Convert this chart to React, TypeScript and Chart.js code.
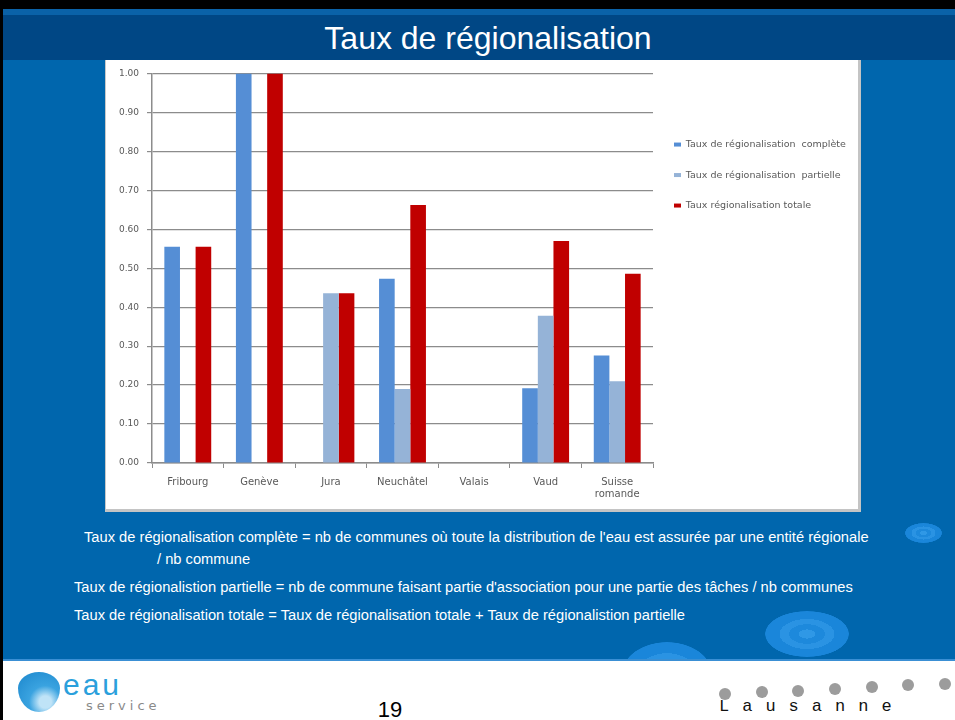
import React, { useEffect, useRef } from "react";
import { Chart, registerables } from "chart.js";

Chart.register(...registerables);

const categories: (string | string[])[] = [
  "Fribourg",
  "Genève",
  "Jura",
  "Neuchâtel",
  "Valais",
  "Vaud",
  ["Suisse", "romande"],
];
const seriesNames = [
  "Taux de régionalisation  complète",
  "Taux de régionalisation  partielle",
  "Taux régionalisation totale",
];
const complete = [0.555, 1.0, 0, 0.473, 0, 0.192, 0.276];
const partielle = [0, 0, 0.436, 0.19, 0, 0.378, 0.21];
const totale = [0.555, 1.0, 0.436, 0.662, 0, 0.57, 0.486];
const yTicks = [0, 0.1, 0.2, 0.3, 0.4, 0.5, 0.6, 0.7, 0.8, 0.9, 1.0];

const title = "Taux de régionalisation";
const notes = [
  "Taux de régionalisation complète = nb de communes où toute la distribution de l'eau est assurée par une entité régionale",
  "/ nb commune",
  "Taux de régionalistion partielle = nb de commune faisant partie d'association pour une partie des tâches / nb communes",
  "Taux de régionalisation totale = Taux de régionalisation totale + Taux de régionalistion partielle",
];
const pageNumber = "19";

const yFont = { family: "DejaVu Sans", size: 9 };
const xFont = { family: "DejaVu Sans", size: 10 };
const legendFont = { family: "DejaVu Sans", size: 9.5 };
const gridColor = "#8c8c8c";

function BarChart() {
  const ref = useRef<HTMLCanvasElement | null>(null);
  useEffect(() => {
    if (!ref.current) return;
    const chart = new Chart(ref.current, {
      type: "bar",
      data: {
        labels: categories,
        datasets: [
          { label: seriesNames[0], data: complete, backgroundColor: "#558ED5" },
          { label: seriesNames[1], data: partielle, backgroundColor: "#95B3D7" },
          { label: seriesNames[2], data: totale, backgroundColor: "#C00000" },
        ],
      },
      options: {
        responsive: false,
        animation: false,
        devicePixelRatio: 1,
        layout: { padding: { top: 12, right: 10, bottom: 0, left: 0 } },
        datasets: { bar: { categoryPercentage: 0.655, barPercentage: 1.0 } },
        plugins: {
          tooltip: { enabled: false },
          legend: {
            position: "right",
            align: "start",
            maxWidth: 195,
            title: { display: true, text: " ", padding: { top: 36, bottom: 0 }, font: { size: 9 } },
            labels: {
              boxWidth: 7,
              boxHeight: 4,
              padding: 21,
              color: "#595959",
              font: legendFont,
            },
          },
        },
        scales: {
          x: {
            grid: {
              offset: true,
              drawOnChartArea: false,
              drawTicks: true,
              tickLength: 5,
              color: gridColor,
            },
            border: { display: true, color: gridColor, width: 1.5 },
            ticks: { color: "#595959", font: xFont, padding: 8, maxRotation: 0, autoSkip: false },
            afterFit: (s: any) => {
              s.height = 46;
            },
          },
          y: {
            min: 0,
            max: 1,
            afterBuildTicks: (s: any) => {
              s.ticks = yTicks.map((v) => ({ value: v }));
            },
            grid: { color: gridColor, lineWidth: 1.2, tickLength: 5 },
            border: { display: true, color: gridColor, width: 1.5 },
            ticks: {
              color: "#595959",
              font: yFont,
              padding: 8,
              callback: (v: any) => Number(v).toFixed(2),
            },
            afterFit: (s: any) => {
              s.width = 46;
            },
          },
        },
      },
    });
    return () => chart.destroy();
  }, []);
  return <canvas ref={ref} width={752} height={449} style={{ display: "block" }} />;
}

function Ripple({ x, y, w, h }: { x: number; y: number; w: number; h: number }) {
  return (
    <div
      style={{
        position: "absolute",
        left: x - w / 2,
        top: y - h / 2,
        width: w,
        height: h,
        borderRadius: "50%",
        background:
          "radial-gradient(ellipse at center, #2f98e6 0 14%, #1d89dc 14% 30%, #2a93e3 30% 46%, #1a86da 46% 70%, rgba(26,134,218,0) 71%)",
      }}
    />
  );
}

export default function App() {
  const dots = [
    [725, 694],
    [762, 692],
    [798, 691],
    [835, 689],
    [872, 687],
    [908, 685],
    [945, 684],
  ];
  const txt: React.CSSProperties = {
    position: "absolute",
    color: "#ffffff",
    fontFamily: "'Liberation Sans', Arial, sans-serif",
    fontSize: 14.7,
    whiteSpace: "nowrap",
    lineHeight: "16px",
  };
  return (
    <div
      style={{
        position: "absolute",
        left: 0,
        top: 0,
        width: 955,
        height: 720,
        overflow: "hidden",
        background: "#ffffff",
      }}
    >
      {/* body blue */}
      <div style={{ position: "absolute", left: 0, top: 9, width: 955, height: 652, background: "#0066AD" }} />
      {/* top black line */}
      <div style={{ position: "absolute", left: 0, top: 0, width: 955, height: 9, background: "#000000" }} />
      {/* light stripe */}
      <div style={{ position: "absolute", left: 0, top: 9, width: 955, height: 6, background: "#0a62a8" }} />
      {/* title band */}
      <div style={{ position: "absolute", left: 0, top: 15, width: 955, height: 45, background: "#004785" }} />
      <Ripple x={923} y={533} w={37} h={20} />
      <Ripple x={807} y={634} w={84} h={46} />
      <Ripple x={667} y={674} w={90} h={64} />
      <div
        style={{
          position: "absolute",
          left: 0,
          top: 18,
          width: 976,
          textAlign: "center",
          color: "#ffffff",
          fontFamily: "'Liberation Sans', Arial, sans-serif",
          fontSize: 32,
          lineHeight: "40px",
        }}
      >
        {title}
      </div>
      {/* chart box */}
      <div
        style={{
          position: "absolute",
          left: 105,
          top: 60,
          width: 752,
          height: 449,
          background: "#ffffff",
          borderLeft: "1px solid #c8c8c8",
          borderRight: "3px solid #c4c4c4",
          borderBottom: "3px solid #c4c4c4",
        }}
      >
        <BarChart />
      </div>
      {/* notes */}
      <div style={{ ...txt, left: 84, top: 529 }}>{notes[0]}</div>
      <div style={{ ...txt, left: 157, top: 551 }}>{notes[1]}</div>
      <div style={{ ...txt, left: 74, top: 579 }}>{notes[2]}</div>
      <div style={{ ...txt, left: 74, top: 607 }}>{notes[3]}</div>
      {/* footer */}
      <div style={{ position: "absolute", left: 0, top: 661, width: 955, height: 59, background: "#ffffff" }} />
      <div style={{ position: "absolute", left: 0, top: 659, width: 955, height: 2, background: "#3a8fd4" }} />
      {/* left black edge */}
      <div style={{ position: "absolute", left: 0, top: 0, width: 3, height: 720, background: "#000000" }} />
      {/* logo */}
      <div
        style={{
          position: "absolute",
          left: 18,
          top: 672,
          width: 42,
          height: 40,
          borderRadius: "50% 50% 50% 50% / 40% 40% 60% 60%",
          background: "radial-gradient(circle at 65% 75%, #bfe3f7 0 15%, #3aa3e0 40%, #1b86cc 100%)",
        }}
      />
      <div
        style={{
          position: "absolute",
          left: 63,
          top: 668,
          color: "#2aa0dc",
          fontFamily: "'Liberation Sans', Arial, sans-serif",
          fontSize: 30,
          letterSpacing: 3,
          lineHeight: "34px",
        }}
      >
        eau
      </div>
      <div
        style={{
          position: "absolute",
          left: 86,
          top: 698,
          color: "#8a8a8a",
          fontFamily: "'DejaVu Sans', sans-serif",
          fontSize: 13,
          letterSpacing: 4,
          lineHeight: "16px",
        }}
      >
        service
      </div>
      <div
        style={{
          position: "absolute",
          left: 370,
          top: 697,
          width: 40,
          textAlign: "center",
          color: "#000000",
          fontFamily: "'Liberation Sans', Arial, sans-serif",
          fontSize: 22,
          lineHeight: "26px",
        }}
      >
        {pageNumber}
      </div>
      {dots.map(([x, y], i) => (
        <div
          key={i}
          style={{
            position: "absolute",
            left: x - 6,
            top: y - 6,
            width: 12,
            height: 12,
            borderRadius: "50%",
            background: "#9c9c9c",
          }}
        />
      ))}
      <div
        style={{
          position: "absolute",
          left: 719,
          top: 697,
          color: "#111111",
          fontFamily: "'Liberation Mono', monospace",
          fontSize: 17,
          letterSpacing: 13,
          lineHeight: "20px",
        }}
      >
        Lausanne
      </div>
    </div>
  );
}
